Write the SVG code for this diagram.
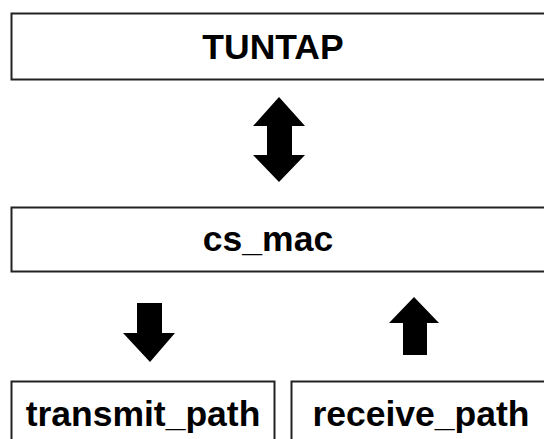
<svg xmlns="http://www.w3.org/2000/svg" width="544" height="439" viewBox="0 0 544 439">
<style>
.box{fill:#fff;stroke:#222;stroke-width:2}
.lbl{font-family:"Liberation Sans",Arial,sans-serif;font-weight:bold;font-size:35.5px;fill:#000;text-anchor:middle}
.arr{fill:#000}
</style>
<rect width="544" height="439" fill="#fff"/>
<g id="tuntap"><rect class="box" x="11.5" y="13.5" width="544" height="66"/><text class="lbl" x="273" y="59">TUNTAP</text></g>
<g id="cs_mac"><rect class="box" x="11.5" y="207.5" width="544" height="64"/><text class="lbl" x="268" y="251">cs_mac</text></g>
<g id="transmit_path"><rect class="box" x="11.5" y="381.5" width="263" height="70"/><text class="lbl" x="143" y="426">transmit_path</text></g>
<g id="receive_path"><rect class="box" x="291.5" y="381.5" width="262" height="70"/><text class="lbl" x="421" y="426">receive_path</text></g>
<g id="connectors">
<polygon class="arr" points="279,97 305,126 292,126 292,155 305,155 279,182 253,155 267,155 267,126 253,126"/>
<polygon class="arr" points="137,303 162,303 162,333 175,333 150,362 123,333 137,333"/>
<polygon class="arr" points="414,297 439,323 427,323 427,355 403,355 403,323 389,323"/>
</g>
</svg>
